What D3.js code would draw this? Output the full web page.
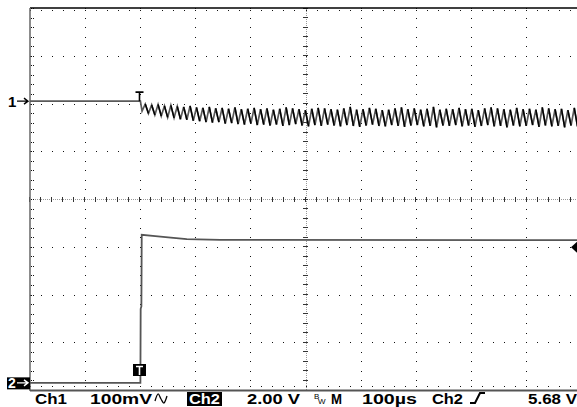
<!DOCTYPE html>
<html>
<head>
<meta charset="utf-8">
<script src="https://cdn.jsdelivr.net/npm/d3@7"></script>
<style>
body { margin: 0; background: #fff; }
text { font-family: "Liberation Sans", Arial, sans-serif; }
</style>
</head>
<body>
<script>
const w = 577;
const h = 407;

// time base: 100us/div, trigger at t = 0
const timeDomain = [-200, 800];
const timeDivStep = 100;
const voltDomain = [-4, 4];

// channel 1: 100 mV/div, AC coupled
const ch1Offset = 2.06;      // divisions above centre
const ch1PerDiv = 100;       // mV
const ch1PreTime = [-200, 0];
const ch1PreValue = [0, 0];
const ch1HalfPeriod = 5.8;   // us between a trough and the next peak
const ch1Start = 3;
const ch1Upper = [
  -6, -8, -7, -10, -9, -11, -12, -10, -13, -14,
  -12, -15, -14, -16, -13, -17, -16, -14, -17, -15,
  -18, -16, -13, -15, -17, -19, -16, -14, -15, -17,
  -18, -15, -12, -18, -17, -14, -16, -19, -18, -15,
  -13, -17, -15, -18, -16, -12, -18, -16, -17, -14,
  -17, -16, -19, -15, -13, -15, -17, -18, -14, -17,
  -16, -18, -13, -15, -17, -16, -19, -14, -16
];
const ch1Lower = [
  -21, -26, -29, -31, -34, -35, -38, -39, -41, -42,
  -44, -45, -44, -47, -46, -48, -49, -47, -50, -49,
  -51, -49, -52, -50, -48, -51, -53, -50, -52, -49,
  -51, -53, -50, -52, -54, -51, -49, -52, -53, -50,
  -52, -54, -51, -50, -53, -52, -55, -51, -52, -50,
  -53, -51, -54, -52, -50, -53, -52, -55, -51, -53,
  -52, -50, -54, -51, -53, -52, -55, -51, -53
];

// channel 2: 2 V/div
const ch2Offset = -3.84;
const ch2PerDiv = 2;
const ch2Time  = [-200, 0, 0.5, 1.8, 2.4, 27, 55, 84, 145, 800];
const ch2Value = [0, 0, 3.1, 3.2, 6.2, 6.15, 6.08, 6.02, 5.99, 5.98];
const trigLevel = 5.68;

// readout along the bottom
const readoutLabels = ["Ch1", "100mV", "Ch2", "2.00 V", "M", "100\u00b5s", "Ch2", "5.68 V"];

const svg = d3.select("body")
              .append("svg")
              .attr("width", w)
              .attr("height", h)
              .style("display", "block");

svg.append("rect").attr("width", w).attr("height", h).attr("fill", "#fff");

const x = d3.scaleLinear().domain(timeDomain).range([30, 582]);
const y = d3.scaleLinear().domain(voltDomain).range([390.5, 8.5]);

const subT = d3.range(timeDomain[0], timeDomain[1] + 0.1, timeDivStep / 5);
const subV = d3.range(voltDomain[0], voltDomain[1] + 0.01, 0.2);
const divT = d3.range(timeDomain[0] + timeDivStep, timeDomain[1], timeDivStep);
const divV = d3.range(voltDomain[0] + 1, voltDomain[1], 1);

const grid = svg.append("g");
function dot(px, py, c) {
  grid.append("rect")
      .attr("x", Math.round(px)).attr("y", Math.round(py))
      .attr("width", 1).attr("height", 1)
      .attr("fill", c || "#111");
}

// dotted division lines
divT.filter(t => t !== 300).forEach(t => {
  subV.forEach(v => dot(x(t) - 0.5, y(v) - 0.5));
});
divV.filter(v => v !== 0).forEach(v => {
  subT.forEach(t => dot(x(t) - 0.5, y(v) - 0.5));
});

// centre lines: fine dots + ticks
const cx = x(300), cy = y(0);
for (let py = 9; py < 390; py += 2) dot(cx - 0.5, py, "#999");
for (let px = 31; px < w; px += 2) dot(px, cy - 0.5, "#999");
subV.forEach(v => {
  grid.append("rect").attr("x", Math.round(cx) - 3).attr("y", Math.round(y(v)) - 1)
      .attr("width", 5).attr("height", 1).attr("fill", "#333");
});
subT.forEach(t => {
  grid.append("rect").attr("x", Math.round(x(t)) - 1).attr("y", Math.round(cy) - 3)
      .attr("width", 1).attr("height", 5).attr("fill", "#333");
});

// edge ticks
subT.forEach(t => {
  dot(x(t) - 0.5, 10);
  dot(x(t) - 0.5, 386);
});
subV.forEach(v => {
  dot(31, y(v) - 0.5);
  dot(33, y(v) - 0.5);
});

// frame
svg.append("line").attr("x1", 30).attr("x2", w).attr("y1", 8).attr("y2", 8)
   .attr("stroke", "#000").attr("stroke-width", 1.6);
svg.append("line").attr("x1", 30).attr("x2", 30).attr("y1", 8).attr("y2", 391)
   .attr("stroke", "#666").attr("stroke-width", 1.5);
svg.append("line").attr("x1", 30).attr("x2", w).attr("y1", 390.5).attr("y2", 390.5)
   .attr("stroke", "#555").attr("stroke-width", 2);

// channel 1 trace
const y1 = mv => y(ch1Offset + mv / ch1PerDiv);
const ch1Points = ch1PreTime.map((t, i) => [t, ch1PreValue[i]]);
ch1Lower.forEach((lo, k) => {
  ch1Points.push([ch1Start + 2 * k * ch1HalfPeriod, lo]);
  ch1Points.push([ch1Start + (2 * k + 1) * ch1HalfPeriod, ch1Upper[k]]);
});
const line1 = d3.line().x(d => x(d[0])).y(d => y1(d[1]));
svg.append("path")
   .datum(ch1Points)
   .attr("fill", "none")
   .attr("stroke", "#5a5a5a")
   .attr("stroke-width", 1.7)
   .attr("d", line1);
// falling edges darker
const falls = [];
for (let i = 4; i < ch1Points.length; i += 2) {
  falls.push([ch1Points[i - 1], ch1Points[i]]);
}
svg.append("g").selectAll("path")
   .data(falls)
   .join("path")
   .attr("fill", "none")
   .attr("stroke", "#000")
   .attr("stroke-width", 1.5)
   .attr("d", line1);

// channel 2 trace
const y2 = v => y(ch2Offset + v / ch2PerDiv);
svg.append("path")
   .datum(ch2Time.map((t, i) => [t, ch2Value[i]]))
   .attr("fill", "none")
   .attr("stroke", "#555")
   .attr("stroke-width", 1.8)
   .attr("d", d3.line().x(d => x(d[0])).y(d => y2(d[1])));

// ch1 trigger T
const tx = Math.round(x(0)) - 0.5;
svg.append("path")
   .attr("d", `M${tx - 4},${y1(0) - 9}H${tx + 4}M${tx},${y1(0) - 9}V${y1(0)}`)
   .attr("fill", "none").attr("stroke", "#000").attr("stroke-width", 1.6);

// ch2 trigger position marker
svg.append("rect").attr("x", tx - 6.5).attr("y", 364).attr("width", 13).attr("height", 12).attr("fill", "#000");
svg.append("path")
   .attr("d", `M${tx - 3.5},366.5H${tx + 3.5}M${tx},366.5V375`)
   .attr("stroke", "#fff").attr("stroke-width", 1.6);

// trigger level arrow
const ly = y2(trigLevel);
svg.append("path")
   .attr("d", `M571,${ly}L577,${ly - 5.5}V${ly + 5.5}Z`)
   .attr("fill", "#000");

// ground markers
svg.append("text").attr("x", 8).attr("y", y1(0) + 5.5)
   .attr("font-size", 15).attr("font-weight", "bold").text("1");
svg.append("path")
   .attr("d", `M17,${y1(0)}H27M24,${y1(0) - 3}L28,${y1(0)}L24,${y1(0) + 3}`)
   .attr("fill", "none").attr("stroke", "#000").attr("stroke-width", 1.4);

const g2 = y2(0);
svg.append("rect").attr("x", 7).attr("y", g2 - 5.5).attr("width", 23).attr("height", 12).attr("fill", "#000");
svg.append("text").attr("x", 8).attr("y", g2 + 5)
   .attr("font-size", 14).attr("font-weight", "bold").attr("fill", "#fff").text("2");
svg.append("path")
   .attr("d", `M17,${g2}H27M24,${g2 - 3}L28,${g2}L24,${g2 + 3}`)
   .attr("fill", "none").attr("stroke", "#fff").attr("stroke-width", 1.4);

// readout
const readoutPos = [[35, 32], [90, 62], [189, 31], [247, 53], [331, 11], [362, 55], [432, 31], [528, 49]];
const baseY = 403.5;
svg.append("rect").attr("x", 187).attr("y", 392).attr("width", 35).attr("height", 14).attr("fill", "#000");
svg.append("g").selectAll("text")
   .data(readoutLabels)
   .join("text")
   .attr("x", (d, i) => readoutPos[i][0])
   .attr("y", baseY)
   .attr("textLength", (d, i) => readoutPos[i][1])
   .attr("lengthAdjust", "spacingAndGlyphs")
   .attr("font-size", 15.5)
   .attr("font-weight", "bold")
   .attr("fill", (d, i) => i === 2 ? "#fff" : "#000")
   .text(d => d);

// AC coupling symbol
svg.append("path")
   .attr("d", d3.line().curve(d3.curveCardinal)([[155, 401], [158, 394], [161, 399], [164, 403], [167, 396]]))
   .attr("fill", "none").attr("stroke", "#000").attr("stroke-width", 1.3);

// bandwidth limit mark
svg.append("text").attr("x", 314).attr("y", 399).attr("font-size", 8).text("B");
svg.append("text").attr("x", 318).attr("y", 404).attr("font-size", 8).text("W");

// trigger slope symbol
svg.append("path")
   .attr("d", "M470,403H475L480,393H485")
   .attr("fill", "none").attr("stroke", "#000").attr("stroke-width", 2);
</script>
</body>
</html>
